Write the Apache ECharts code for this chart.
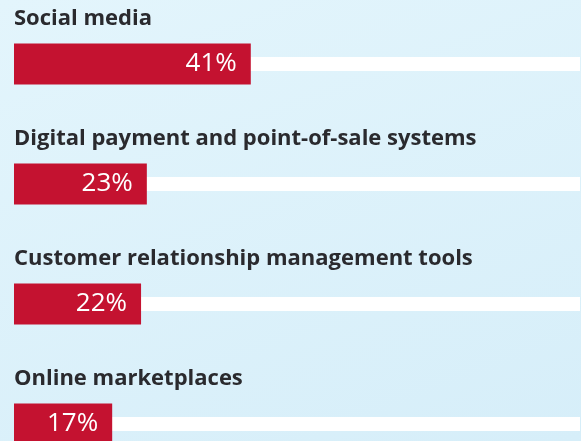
<!DOCTYPE html>
<html>
<head>
<meta charset="utf-8">
<script src="https://cdn.jsdelivr.net/npm/echarts@6/dist/echarts.min.js"></script>
<style>
  html, body { margin: 0; padding: 0; }
  #chart {
    width: 581px;
    height: 441px;
    background: linear-gradient(160deg, #e3f5fc 0%, #d6eef9 100%);
  }
</style>
</head>
<body>
<div id="chart"></div>
<script>
// 数据
const categories = [
  'Social media',
  'Digital payment and point-of-sale systems',
  'Customer relationship management tools',
  'Online marketplaces'
];
const shares = [41, 23, 22, 17];
const scaleMax = 98;
const track = categories.map(() => scaleMax);

const myChart = echarts.init(document.getElementById('chart'));

const option = {
  animation: false,
  grid: { left: 14, top: 4, width: 566, height: 480, outerBoundsMode: 'none', containLabel: false },
  xAxis: { type: 'value', min: 0, max: scaleMax, show: false },
  yAxis: [
    { type: 'category', data: categories, inverse: true, show: false },
    { type: 'category', data: categories, inverse: true, show: false }
  ],
  series: [
    {
      // 白色底条 + 标题
      type: 'bar',
      yAxisIndex: 1,
      data: track,
      barWidth: 14,
      silent: true,
      itemStyle: { color: '#ffffff' },
      label: {
        show: true,
        position: [0, -38],
        align: 'left',
        verticalAlign: 'middle',
        formatter: (p) => p.name,
        fontFamily: 'Open Sans',
        fontWeight: 'bold',
        fontSize: 22,
        color: '#2a2a2e'
      },
      z: 1
    },
    {
      type: 'bar',
      yAxisIndex: 0,
      data: shares,
      barWidth: 41,
      itemStyle: { color: '#c41230' },
      label: {
        show: true,
        position: 'insideRight',
        distance: 14,
        formatter: '{c}%',
        fontFamily: 'Open Sans',
        fontSize: 26,
        color: '#ffffff'
      },
      z: 2
    }
  ]
};

option && myChart.setOption(option);
</script>
</body>
</html>
